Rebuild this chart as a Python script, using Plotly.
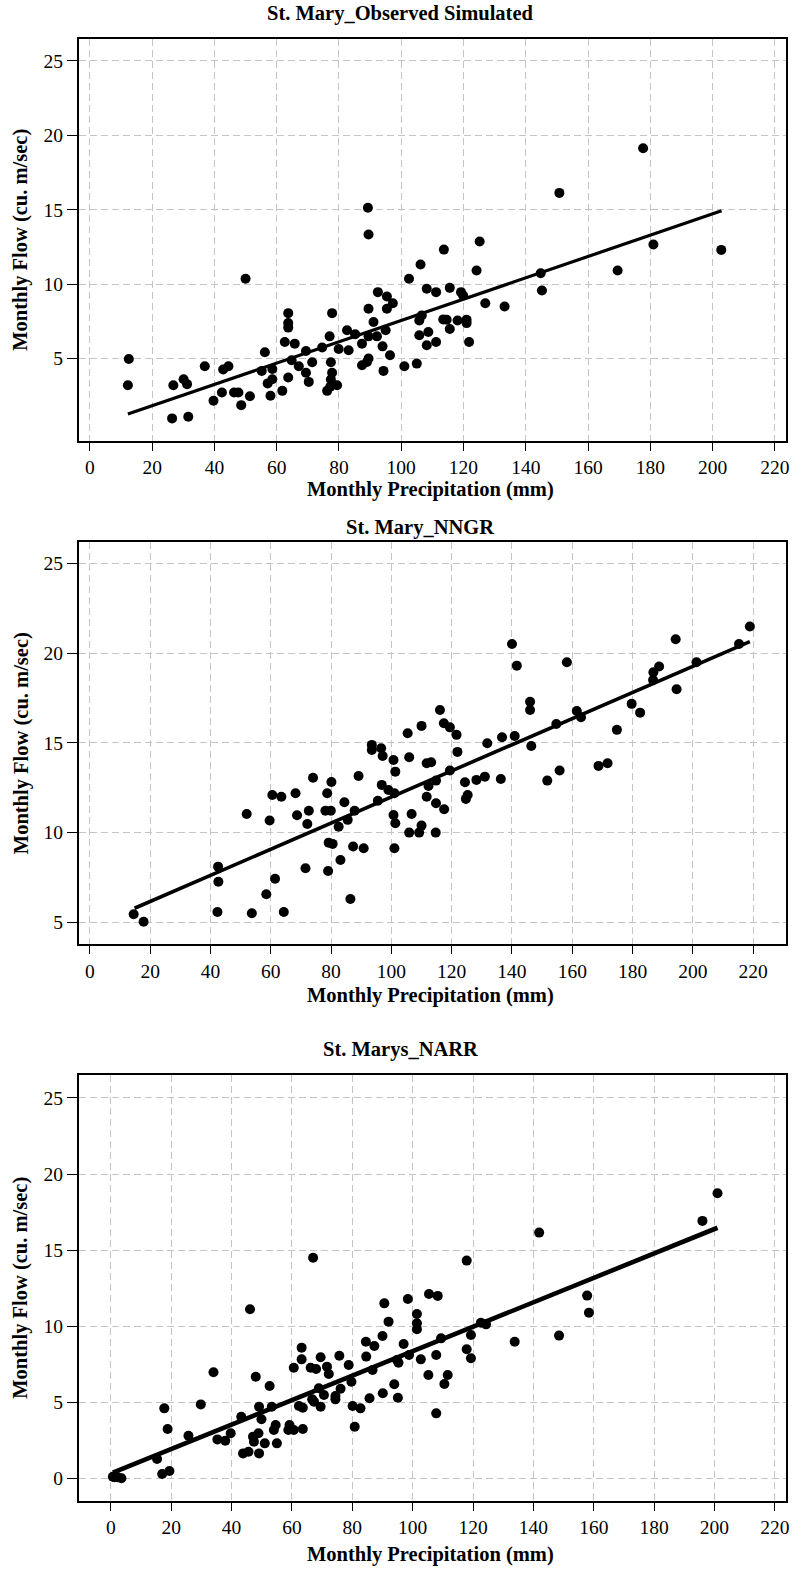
import plotly.graph_objects as go

# ---------------- data ----------------
x_ticks = [0, 20, 40, 60, 80, 100, 120, 140, 160, 180, 200, 220]
y_ticks_obs = [5, 10, 15, 20, 25]
y_ticks_nngr = [5, 10, 15, 20, 25]
y_ticks_narr = [0, 5, 10, 15, 20, 25]

titles = ["St. Mary_Observed Simulated", "St. Mary_NNGR", "St. Marys_NARR"]
x_title = "Monthly Precipitation (mm)"
y_title = "Monthly Flow (cu. m/sec)"

obs_precip = [12.5, 12.2, 26.4, 26.8, 30.1, 31.2, 31.6, 36.9, 39.7, 42.8, 44.5, 42.4, 46.3, 47.7, 48.6,
              50.0, 51.4, 55.2, 56.2, 57.1, 58.6, 58.6, 58.0, 61.8, 62.6, 63.7, 63.7, 63.7, 63.7, 64.8,
              65.8, 67.1, 69.4, 69.4, 70.3, 71.4, 74.6, 76.2, 77.0, 77.8, 77.4, 77.8, 77.4, 77.2, 79.4,
              79.9, 82.6, 83.1, 85.2, 87.4, 87.4, 89.5, 89.5, 89.0, 89.5, 89.3, 91.1, 92.5, 92.2, 89.5,
              94.0, 95.4, 95.4, 97.3, 96.4, 95.0, 94.3, 102.5, 106.2, 113.7, 125.2, 108.2, 111.2, 115.6,
              119.2, 119.9, 124.2, 127.0, 133.2, 106.6, 105.8, 113.5, 114.6, 118.1, 121.0, 121.0, 105.8,
              108.7, 115.6, 108.2, 111.2, 121.8, 101.0, 105.0, 144.8, 145.2, 169.5, 181.0, 202.8, 150.8,
              177.7]
obs_flow = [4.97, 3.21, 0.98, 3.21, 3.61, 3.28, 1.09, 4.48, 2.16, 4.26, 4.48, 2.72, 2.72, 2.72, 1.87,
            10.36, 2.47, 4.17, 5.42, 3.33, 4.30, 3.61, 2.50, 2.83, 6.11, 8.05, 7.38, 7.08, 3.73, 4.89,
            6.0, 4.48, 5.51, 4.04, 3.43, 4.75, 5.74, 2.83, 6.49, 8.05, 4.75, 4.04, 3.59, 3.10, 3.21,
            5.64, 6.9, 5.56, 6.63, 6.0, 4.55, 8.35, 5.0, 4.77, 13.33, 15.13, 7.45, 9.46, 6.49, 6.49,
            5.82, 9.17, 8.35, 8.72, 5.22, 6.9, 4.17, 10.36, 11.32, 12.32, 12.86, 9.69, 9.46, 9.75,
            9.46, 9.24, 10.91, 8.72, 8.5, 7.9, 7.56, 7.63, 7.61, 7.56, 7.61, 7.38, 6.56,
            6.78, 6.98, 5.89, 6.11, 6.11, 4.48, 4.66, 10.73, 9.57, 10.91, 12.66, 12.3, 16.13,
            19.13]
obs_fit_x = [12.2, 202.9]
obs_fit_y = [1.27, 14.93]

nngr_precip = [14.5, 17.8, 42.5, 42.6, 42.3, 52.0, 53.7, 58.5, 59.6, 60.5, 61.4, 63.5, 64.3, 68.2, 68.7,
               71.5, 72.1, 72.6, 74.0, 78.7, 78.1, 79.9, 80.1, 79.2, 80.5, 79.0, 82.5, 83.1, 84.4, 85.5,
               86.4, 87.3, 87.8, 89.1, 90.8, 93.5, 93.5, 96.6, 97.1, 96.8, 95.5, 99.0, 100.7, 101.3, 101.0,
               100.7, 101.3, 101.0, 105.4, 110.0, 117.4, 119.4, 121.6, 105.9, 111.7, 113.2, 121.9, 119.4,
               114.8, 112.3, 124.4, 125.3, 124.7, 128.2, 131.0, 131.8, 136.7, 140.9, 146.4, 136.3, 151.7,
               155.8, 154.7, 168.7, 171.7, 174.8, 111.7, 114.8, 117.5, 106.7, 110.0, 109.2, 105.9, 114.7,
               116.1, 140.0, 141.6, 146.0, 146.0, 158.2, 161.5, 162.9, 179.7, 182.5, 186.8, 186.9, 188.8,
               194.3, 194.6, 201.2, 215.3, 218.9]
nngr_flow = [5.45, 5.03, 8.1, 7.26, 5.57, 11.04, 5.5, 6.56, 10.67, 12.1, 7.43, 12.0, 5.57, 12.19, 10.97,
             8.01, 10.48, 11.22, 13.06, 12.19, 11.22, 11.22, 12.82, 9.44, 9.37, 7.86, 10.33, 8.47, 11.69, 10.71,
             6.3, 9.22, 11.22, 13.16, 9.13, 14.89, 14.61, 14.7, 14.27, 12.66, 11.78, 12.38, 14.05, 13.4, 12.19,
             10.98, 10.52, 9.13, 15.54, 15.95, 16.1, 15.87, 15.45, 14.2, 13.87, 13.92, 14.5, 13.46,
             12.9, 12.6, 12.81, 12.1, 11.88, 12.94, 13.12, 14.98, 15.32, 15.39, 14.83, 12.99, 12.9,
             13.46, 16.06, 13.72, 13.87, 15.73, 12.0, 11.64, 11.3, 11.04, 10.39, 10.0, 10.0, 10.0,
             16.84, 20.52, 19.31, 17.3, 16.84, 19.5, 16.78, 16.43, 17.18, 16.69, 18.51, 18.94, 19.26,
             20.78, 17.99, 19.5, 20.52, 21.49]
nngr_fit_x = [14.8, 218.9]
nngr_fit_y = [5.78, 20.65]

narr_precip = [0.66, 1.2, 2.3, 3.5, 15.3, 17.0, 19.4, 17.7, 18.8, 25.7, 29.8, 34.0, 35.3, 37.9, 39.7,
               43.2, 43.8, 45.6, 46.1, 48.0, 47.1, 47.4, 48.9, 49.1, 49.9, 49.1, 51.0, 52.6, 53.3, 54.0,
               54.6, 55.0, 58.8, 59.2, 60.6, 63.6, 60.6, 63.2, 63.2, 62.3, 63.6, 66.2, 68.0, 69.5, 66.7,
               67.3, 68.9, 69.5, 70.6, 71.6, 72.2, 74.4, 74.4, 75.7, 76.1, 78.8, 79.7, 80.1, 80.8, 82.7,
               84.5, 84.6, 85.7, 86.7, 87.3, 90.0, 90.6, 92.0, 90.1, 93.9, 94.8, 95.1, 98.4, 105.4, 108.3,
               101.4, 101.4, 101.4, 97.0, 95.3, 98.8, 102.7, 107.8, 109.4, 105.2, 110.5, 111.6, 107.8,
               117.9, 119.3, 119.3, 122.6, 124.3, 133.8, 148.5, 157.8, 158.4, 117.9, 141.9, 196.0, 201.0,
               67.0]
narr_flow = [0.1, 0.07, 0.07, 0.0, 1.27, 0.28, 0.48, 4.6, 3.24, 2.8, 4.86, 6.97, 2.56, 2.47, 2.96,
             4.05, 1.64, 1.75, 11.11, 6.68, 2.74, 2.41, 2.96, 4.71, 3.88, 1.64, 2.3, 6.07, 4.71, 3.18,
             3.5, 2.3, 3.18, 3.5, 3.18, 3.24, 7.27, 8.59, 7.82, 4.75, 4.64, 7.27, 7.19, 7.96, 5.19,
             5.04, 5.92, 4.71, 5.48, 7.34, 6.86, 5.41, 5.19, 8.06, 5.89, 7.45, 6.35, 4.75, 3.39, 4.6,
             8.98, 8.0, 5.26, 7.12, 8.7, 9.36, 11.5, 10.3, 5.59, 6.18, 7.78, 5.3, 11.79, 12.12, 11.99,
             10.8, 10.19, 9.8, 8.83, 7.6, 8.11, 7.82, 8.11, 9.2, 6.79, 6.2, 6.79, 4.27,
             8.48, 7.89, 9.42, 10.23, 10.12, 8.98, 9.38, 12.01, 10.89, 14.31, 16.15, 16.92, 18.74,
             14.5]
narr_fit_x = [0.66, 201.0]
narr_fit_y = [0.37, 16.47]

# ---------------- layout helpers ----------------
W, H = 795, 1570
FONT = "Liberation Serif"
LABEL_SIZE = 20.5

panels = [
    dict(px=obs_precip, py=obs_flow, fx=obs_fit_x, fy=obs_fit_y, yt=y_ticks_obs,
         xr=[-3.6, 223.7], yr=[-0.52, 26.47], top=39, bot=440.7, lw=3.2,
         tx=402, ty=14, xty=490),
    dict(px=nngr_precip, py=nngr_flow, fx=nngr_fit_x, fy=nngr_fit_y, yt=y_ticks_nngr,
         xr=[-3.73, 231.0], yr=[3.77, 26.19], top=542.3, bot=944.3, lw=3.6,
         tx=422, ty=528, xty=995),
    dict(px=narr_precip, py=narr_flow, fx=narr_fit_x, fy=narr_fit_y, yt=y_ticks_narr,
         xr=[-10.66, 223.8], yr=[-1.47, 26.51], top=1075, bot=1500.7, lw=4.6,
         tx=402, ty=1049, xty=1554),
]

left_px, right_px = 79, 789.3

fig = go.Figure()
annotations = []
layout_axes = {}
for i, p in enumerate(panels):
    n = "" if i == 0 else str(i + 1)
    xa, ya = "x" + n, "y" + n
    fig.add_trace(go.Scatter(x=p["px"], y=p["py"], mode="markers", xaxis=xa, yaxis=ya,
                             marker=dict(color="black", size=10), showlegend=False))
    fig.add_trace(go.Scatter(x=p["fx"], y=p["fy"], mode="lines", xaxis=xa, yaxis=ya,
                             line=dict(color="black", width=p["lw"]), showlegend=False))
    common = dict(showline=True, mirror=True, linecolor="black", linewidth=1.6,
                  showgrid=True, gridcolor="#c4c4c4", gridwidth=1, griddash="7px,4px",
                  zeroline=False, ticks="outside", tickcolor="black", tickwidth=1.3,
                  tickfont=dict(family=FONT, size=19.5, color="black"))
    layout_axes["xaxis" + n] = dict(common, domain=[left_px / W, right_px / W], range=p["xr"],
                                    tickvals=x_ticks, ticktext=[str(v) for v in x_ticks],
                                    ticklen=8, anchor=ya)
    layout_axes["yaxis" + n] = dict(common, domain=[1 - p["bot"] / H, 1 - p["top"] / H], range=p["yr"],
                                    tickvals=p["yt"], ticktext=[str(v) for v in p["yt"]],
                                    ticklen=10, anchor=xa)
    annotations.append(dict(text="<b>" + titles[i] + "</b>", x=p["tx"] / W, y=1 - p["ty"] / H,
                            xref="paper", yref="paper", showarrow=False, xanchor="center", yanchor="middle",
                            font=dict(family=FONT, size=LABEL_SIZE, color="black")))
    annotations.append(dict(text="<b>" + x_title + "</b>", x=432 / W, y=1 - p["xty"] / H,
                            xref="paper", yref="paper", showarrow=False, xanchor="center", yanchor="middle",
                            font=dict(family=FONT, size=LABEL_SIZE, color="black")))
    annotations.append(dict(text="<b>" + y_title + "</b>", x=21 / W, y=1 - (p["top"] + p["bot"]) / 2 / H,
                            xref="paper", yref="paper", showarrow=False, xanchor="center", yanchor="middle",
                            textangle=-90, font=dict(family=FONT, size=LABEL_SIZE, color="black")))

fig.update_layout(width=W, height=H, autosize=False, margin=dict(l=0, r=0, t=0, b=0),
                  paper_bgcolor="white", plot_bgcolor="white", annotations=annotations,
                  **layout_axes)
fig.write_html("out.html")
